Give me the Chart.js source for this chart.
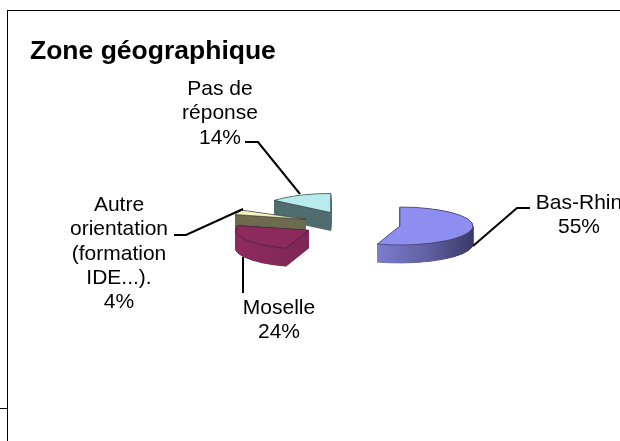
<!DOCTYPE html>
<html>
<head>
<meta charset="utf-8">
<style>
  html, body { margin: 0; padding: 0; background: #fff; width: 620px; height: 441px; overflow: hidden; }
  canvas { position: absolute; left: 0; top: 0; }
  .rule { position: absolute; background: #000; }
</style>
<script src="https://cdn.jsdelivr.net/npm/chart.js@4"></script>
</head>
<body>
<div class="rule" style="left:7px;top:10px;width:613px;height:1px"></div>
<div class="rule" style="left:7px;top:10px;width:1px;height:431px"></div>
<div class="rule" style="left:0;top:408px;width:7px;height:1px"></div>
<canvas id="pie" width="620" height="441"></canvas>
<script>
const chartTitle = "Zone géographique";
// the last gap in the picture reads as about 3%, it has no label and no colour
const categories = ["Bas-Rhin", "Moselle", "Autre orientation (formation IDE...).", "Sans libellé", "Pas de réponse"];
const shares = [55, 24, 4, 3, 14];
const topColours = ["#8e8ef0", "#8c2a5e", "#f5f3c2", "rgba(0,0,0,0)", "#b8ecec"];

// how each label is broken into lines, the percentage is added from shares
const labelLines = [["Bas-Rhin"], ["Moselle"], ["Autre", "orientation", "(formation", "IDE...)."], [], ["Pas de", "réponse"]];

// layout of the fake 3d pie
const pieX = 351.5, pieY = 224, pieRadius = 73, tilt = 0.26, depth = 18, explode = 49;
const drawOrder = [4, 2, 1, 0];
const sideStops = [
  [[0, "#8f8fe6"], [0.35, "#7c7cd0"], [0.7, "#5f5fa0"], [1, "#3a3a68"]],
  [[0, "#8f2b60"], [0.5, "#7d2656"], [0.52, "#651f47"], [1, "#651f47"]],
  [[0, "#6c6b50"], [1, "#6c6b50"]],
  [],
  [[0, "#4f6c6e"], [1, "#4f6c6e"]]
];

// label anchors: centre x, first baseline y
const labelAnchors = [[579, 209], [279, 314], [119, 211], null, [220, 95]];
const labelLineHeight = 24.3;
const leaders = [
  [[530, 208], [517, 208], [473, 246]],
  [[243, 257], [243, 293]],
  [[174, 235], [186, 235], [243, 209]],
  null,
  [[245, 142], [258, 142], [300, 194]]
];

function moveToSlice(ctx, arc, drop) {
  const mid = (arc.startAngle + arc.endAngle) / 2;
  ctx.translate(pieX, pieY + drop);
  ctx.scale(1, tilt);
  ctx.translate(Math.cos(mid) * explode - arc.x, Math.sin(mid) * explode - arc.y);
}

function drawSlice(ctx, arc, drop, fill, stroke, lineWidth) {
  const keep = arc.options;
  arc.options = {
    backgroundColor: fill, borderColor: stroke, borderWidth: lineWidth, borderAlign: "center",
    borderJoinStyle: "round", borderRadius: 0, borderDash: [], borderDashOffset: 0,
    offset: 0, spacing: 0, circular: true
  };
  ctx.save();
  moveToSlice(ctx, arc, drop);
  arc.draw(ctx);
  ctx.restore();
  arc.options = keep;
}

const tiltedPie = {
  id: "tiltedPie",
  beforeDatasetDraw() {
    return false; // drawn below, squashed and with a side wall
  },
  afterDatasetsDraw(chart) {
    const ctx = chart.ctx;
    const arcs = chart.getDatasetMeta(0).data;
    drawOrder.forEach(i => {
      const arc = arcs[i];
      const wall = ctx.createLinearGradient(arc.x - pieRadius, 0, arc.x + pieRadius, 0);
      sideStops[i].forEach(s => wall.addColorStop(s[0], s[1]));
      drawSlice(ctx, arc, depth, wall, "rgba(40,40,50,0.7)", 1);
      // small steps and a stroke, thin wedges leave gaps near the tip otherwise
      for (let drop = depth - 0.25; drop > 0; drop -= 0.25) {
        drawSlice(ctx, arc, drop, wall, wall, 1);
      }
      drawSlice(ctx, arc, 0, topColours[i], "rgba(30,30,40,0.8)", 1);
    });
  },
  afterDraw(chart) {
    const ctx = chart.ctx;
    ctx.save();
    ctx.strokeStyle = "#000";
    ctx.lineWidth = 2;
    leaders.forEach(points => {
      if (!points) return;
      ctx.beginPath();
      points.forEach((p, n) => n ? ctx.lineTo(p[0], p[1]) : ctx.moveTo(p[0], p[1]));
      ctx.stroke();
    });
    ctx.fillStyle = "#000";
    ctx.font = "21px 'Liberation Sans', Arial, sans-serif";
    ctx.textAlign = "center";
    ctx.textBaseline = "alphabetic";
    labelAnchors.forEach((anchor, i) => {
      if (!anchor) return;
      labelLines[i].concat(shares[i] + "%").forEach((line, n) => {
        ctx.fillText(line, anchor[0], anchor[1] + n * labelLineHeight);
      });
    });
    ctx.restore();
  }
};

new Chart(document.getElementById("pie"), {
  type: "pie",
  data: {
    labels: categories,
    datasets: [{ data: shares, backgroundColor: topColours, radius: pieRadius }]
  },
  options: {
    responsive: false,
    animation: false,
    events: [],
    layout: { padding: { left: 30, top: 0, right: 20, bottom: 20 } },
    plugins: {
      legend: { display: false },
      tooltip: { enabled: false },
      title: {
        display: true,
        text: chartTitle,
        align: "start",
        color: "#000",
        font: { family: "'Liberation Sans', Arial, sans-serif", size: 26.5, weight: "bold" },
        padding: { top: 36, bottom: 0 }
      }
    }
  },
  plugins: [tiltedPie]
});
</script>
</body>
</html>
